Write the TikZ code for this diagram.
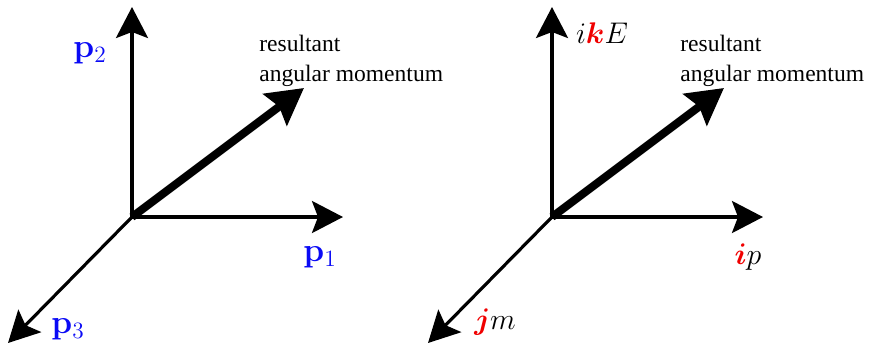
\RequirePackage{fix-cm}
\documentclass[tikz,border=0pt]{standalone}
\usepackage{amsmath,bm}
\usepackage[no-math]{fontspec}
\newfontfamily\notefont{Liberation Serif}
\usepackage{xcolor}
\usetikzlibrary{arrows.meta}
\definecolor{ink}{HTML}{000000}
\definecolor{vBlue}{HTML}{0A0AF5}
\definecolor{uRed}{HTML}{F00000}
\tikzset{
  axis/.style={draw=ink, line width=1.8pt, -{Stealth[length=0.62cm, width=0.64cm, inset=0.12cm]}},
  resvec/.style={draw=ink, line width=4.6pt, -{Stealth[length=0.72cm, width=0.78cm, inset=0.1cm]}},
  vlbl/.style={font=\fontsize{17}{20}\selectfont, text=ink, inner sep=0pt},
  plbl/.style={vlbl, font=\fontsize{19}{22}\selectfont, text=vBlue},
  note/.style={font=\notefont\fontsize{13.4}{17}\selectfont, text=ink, align=left, inner sep=0pt, anchor=north west},
}

\begin{document}
\begin{tikzpicture}[x=0.02cm, y=-0.02cm]
\useasboundingbox (0,0) rectangle (870,345);
% left: momentum axes
\coordinate (oL) at (132,217);
\coordinate (p1end) at (343,217);
\coordinate (p2end) at (132,7);
\coordinate (p3end) at (8,343);
\coordinate (resL) at (304,88);
\draw[axis] (oL) -- (p2end);
\draw[axis] (oL) -- (p1end);
\draw[axis] (oL) -- (p3end);
\draw[resvec] (oL) -- (resL);
\node[plbl] (p1lbl) at (320,257) {$\mathbf{p}_1$};
\node[plbl] (p2lbl) at (90,53) {$\mathbf{p}_2$};
\node[plbl] (p3lbl) at (68,329) {$\mathbf{p}_3$};
\node[note] (noteL) at (259,35) {resultant\\angular momentum};
% right: quaternion axes
\coordinate (oR) at (552,217);
\coordinate (ipend) at (763,217);
\coordinate (kEend) at (552,7);
\coordinate (jmend) at (428,343);
\coordinate (resR) at (724,88);
\draw[axis] (oR) -- (kEend);
\draw[axis] (oR) -- (ipend);
\draw[axis] (oR) -- (jmend);
\draw[resvec] (oR) -- (resR);
\node[vlbl] (kElbl) at (602,33) {$i\textcolor{uRed}{\bm{k}}E$};
\node[vlbl] (iplbl) at (748,257) {$\textcolor{uRed}{\bm{i}}p$};
\node[vlbl] (jmlbl) at (495,322) {$\textcolor{uRed}{\bm{j}}m$};
\node[note] (noteR) at (680,35) {resultant\\angular momentum};
\end{tikzpicture}
\end{document}
